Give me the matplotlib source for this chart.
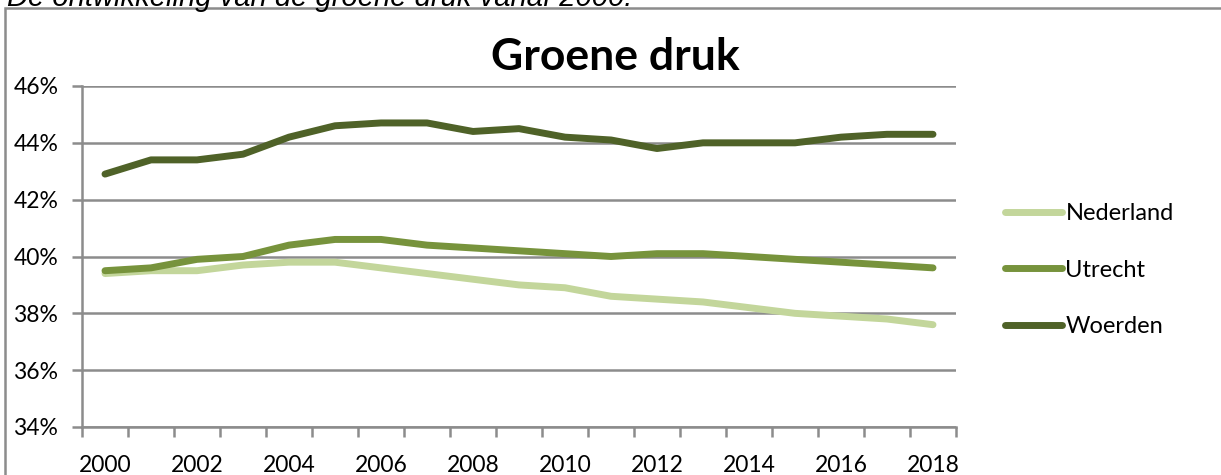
import numpy as np
import matplotlib.pyplot as plt
from matplotlib.patches import Rectangle
from matplotlib.ticker import FixedLocator, FuncFormatter

plt.rcParams["font.family"] = ["Lato", "DejaVu Sans"]

years = list(range(2000, 2019))
nederland = [39.4, 39.5, 39.5, 39.7, 39.8, 39.8, 39.6, 39.4, 39.2, 39.0,
             38.9, 38.6, 38.5, 38.4, 38.2, 38.0, 37.9, 37.8, 37.6]
utrecht = [39.5, 39.6, 39.9, 40.0, 40.4, 40.6, 40.6, 40.4, 40.3, 40.2,
           40.1, 40.0, 40.1, 40.1, 40.0, 39.9, 39.8, 39.7, 39.6]
woerden = [42.9, 43.4, 43.4, 43.6, 44.2, 44.6, 44.7, 44.7, 44.4, 44.5,
           44.2, 44.1, 43.8, 44.0, 44.0, 44.0, 44.2, 44.3, 44.3]

series = {"Nederland": nederland, "Utrecht": utrecht, "Woerden": woerden}
colors = {"Nederland": "#c3d69b", "Utrecht": "#77933c", "Woerden": "#4f6228"}

grid_col = "#8c8c8c"

fig = plt.figure(figsize=(12.21, 4.75), dpi=100)
ax = fig.add_axes([82 / 1221, 1 - 427 / 475, (956 - 82) / 1221, (427 - 86) / 475])

x = np.arange(len(years))
for name, vals in series.items():
    ax.plot(x, vals, color=colors[name], lw=5, solid_capstyle="round",
            solid_joinstyle="round", label=name, zorder=3)

ax.set_xlim(-0.5, len(years) - 0.5)
ax.set_ylim(34, 46)

# y axis
ax.set_yticks(np.arange(34, 47, 2))
ax.yaxis.set_major_formatter(FuncFormatter(lambda v, p: f"{v:.0f}%"))
ax.grid(axis="y", color=grid_col, lw=1.8, zorder=1)
ax.tick_params(axis="y", length=7, width=1.8, color=grid_col, labelsize=16.5, pad=10)

# x axis: ticks between categories, labels every other year
ax.xaxis.set_major_locator(FixedLocator(x[::2]))
ax.set_xticklabels([str(y) for y in years[::2]])
ax.xaxis.set_minor_locator(FixedLocator(np.arange(-0.5, len(years), 1.0)))
ax.tick_params(axis="x", which="major", length=0, labelsize=16.5, pad=20)
ax.tick_params(axis="x", which="minor", length=7, width=1.8, color=grid_col)

for s in ["top", "right"]:
    ax.spines[s].set_visible(False)
for s in ["left", "bottom"]:
    ax.spines[s].set_color(grid_col)
    ax.spines[s].set_linewidth(1.8)

fig.text(615 / 1221, 1 - 57 / 475, "Groene druk", ha="center", va="center",
         fontsize=32, fontweight="bold")

leg = fig.legend(loc="upper left", bbox_to_anchor=(984 / 1221, 1 - 182 / 475),
                 frameon=False, fontsize=17, handlelength=2.4,
                 handletextpad=0.15, labelspacing=1.5)

# chart border (only left and top edges visible in crop)
fig.patches.append(Rectangle((5 / 1221, -0.2), 1.2, 1.2 - 8 / 475,
                             transform=fig.transFigure, fill=False,
                             edgecolor="#8c8c8c", lw=1.8))

fig.text(7 / 1221, 1 - 6 / 475, "De ontwikkeling van de groene druk vanaf 2000.",
         family="Liberation Sans", style="italic", fontsize=21, va="baseline")

fig.savefig("out.png", dpi=100)
